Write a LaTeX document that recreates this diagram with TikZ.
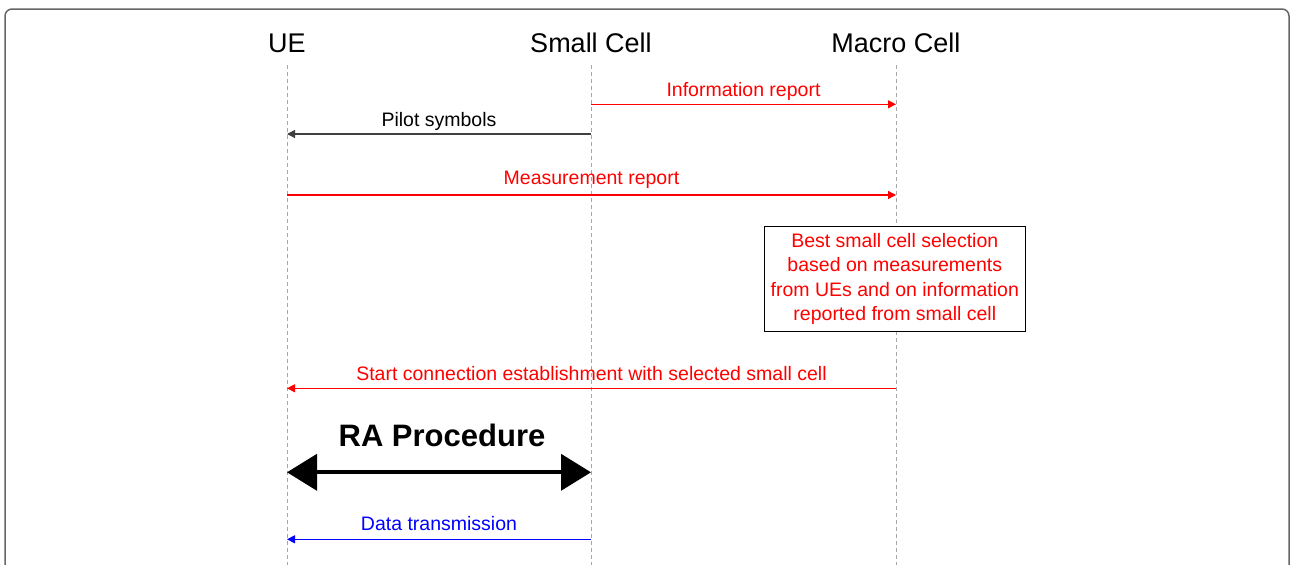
\documentclass[tikz,border=0pt]{standalone}
\usepackage{fontspec}
\setmainfont{Liberation Sans}
\usetikzlibrary{arrows.meta}
\begin{document}
\begin{tikzpicture}[x=1pt,y=-1pt,
  lifeline/.style={draw=gray!70, line width=1pt, dash pattern=on 4pt off 3pt},
  header/.style={anchor=base, font=\fontsize{27}{30}\selectfont},
  msglabel/.style={anchor=base, font=\fontsize{19.5}{24}\selectfont},
  msg/.style={line width=1.2pt, -{Triangle[length=8pt,width=8pt]}},
  notebox/.style={draw=black, line width=1pt, fill=white, text=red, align=center,
    minimum width=261pt, minimum height=105pt, inner sep=0pt,
    font=\fontsize{19.5}{24.5}\selectfont},
  ra/.style={line width=4pt, {Triangle[length=30pt,width=36pt]}-{Triangle[length=30pt,width=36pt]}}
]
\clip (0,0) rectangle (1291,565);
\fill[white] (0,0) rectangle (1291,565);

% outer frame
\draw[gray!80!black, line width=1.5pt, rounded corners=7pt] (5,9) rectangle (1289,620);

% participants
\node[header] (ue) at (287,52) {UE};
\node[header] (sc) at (591,52) {Small Cell};
\node[header] (mc) at (896,52) {Macro Cell};

% lifelines
\coordinate (ueT) at (287,65);  \coordinate (ueB) at (287,565);
\coordinate (scT) at (591,65);  \coordinate (scB) at (591,565);
\coordinate (mcT) at (896,65);  \coordinate (mcB) at (896,565);
\draw[lifeline] (ueT) -- (ueB);
\draw[lifeline] (scT) -- (scB);
\draw[lifeline] (mcT) -- (mcB);

% message anchors on the lifelines
\coordinate (sc1) at (591,104.3); \coordinate (mc1) at (896,104.3);
\coordinate (sc2) at (591,134);   \coordinate (ue2) at (287,134);
\coordinate (ue3) at (287,195);   \coordinate (mc3) at (896,195);
\coordinate (mc5) at (896,388.3); \coordinate (ue5) at (287,388.3);
\coordinate (ue6) at (287,472.3); \coordinate (sc6) at (591,472.3);
\coordinate (sc7) at (591,539.3); \coordinate (ue7) at (287,539.3);

% information report
\draw[msg, red] (sc1) -- (mc1);
\node[msglabel, text=red] (l1) at (743.5,96.7) {Information report};

% pilot symbols
\draw[msg, black!75] (sc2) -- (ue2);
\node[msglabel] (l2) at (439,126) {Pilot symbols};

% measurement report
\draw[msg, red] (ue3) -- (mc3);
\node[msglabel, text=red] (l3) at (591.5,184) {Measurement report};

% selection at the macro cell
\node[notebox] (sel) at (894.8,279) {Best small cell selection\\based on measurements\\from UEs and on information\\reported from small cell};

% start connection
\draw[msg, red] (mc5) -- (ue5);
\node[msglabel, text=red] (l5) at (591.5,380) {Start connection establishment with selected small cell};

% random access procedure
\draw[ra] (ue6) -- (sc6);
\node[anchor=base, font=\bfseries\fontsize{31}{34}\selectfont] (l6) at (442,446.7) {RA Procedure};

% data transmission
\draw[msg, blue] (sc7) -- (ue7);
\node[msglabel, text=blue] (l7) at (439,530.7) {Data transmission};
\end{tikzpicture}
\end{document}
